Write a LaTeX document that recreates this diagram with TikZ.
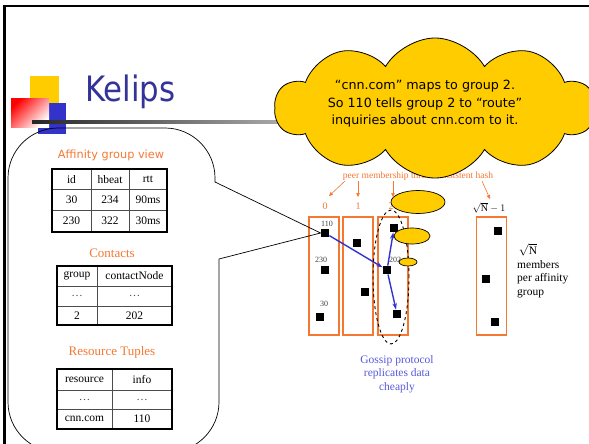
\documentclass[tikz,border=0pt]{standalone}
\usepackage{fontspec}
\setmainfont{Liberation Serif}
\newfontfamily\slidesans{DejaVu Sans}
\usetikzlibrary{shapes.symbols,shapes.geometric,arrows.meta}

\definecolor{kyellow}{RGB}{255,204,0}
\definecolor{kblue}{RGB}{51,51,204}
\definecolor{ktitle}{RGB}{51,51,153}
\definecolor{korange}{RGB}{245,120,50}
\definecolor{kgossip}{RGB}{90,90,220}

\tikzset{
  member/.style={fill=black, minimum size=8.5pt, inner sep=0pt},
  groupbox/.style={draw=korange, line width=1.2pt, fill=white, minimum width=30pt, minimum height=118pt, inner sep=0pt},
  idlabel/.style={font=\fontsize{8}{9}\selectfont, text=black!75, inner sep=0pt},
  cell/.style={font=\fontsize{11.5}{12}\selectfont, inner sep=0pt},
  tabhead/.style={font=\fontsize{13}{14}\selectfont, text=korange, inner sep=0pt},
  tabouter/.style={line width=1.8pt, black},
  tabinner/.style={line width=0.7pt, black!70},
  hashtip/.style={korange, line width=0.6pt, -{Triangle[length=4pt,width=3.5pt]}},
  gossiparrow/.style={kblue, line width=1.4pt, -{Stealth[length=6.5pt,width=4.5pt]}},
  bubble/.style={ellipse, draw=black, line width=0.7pt, fill=kyellow, inner sep=0pt},
}

\begin{document}
\begin{tikzpicture}[x=1pt,y=-1pt]
\useasboundingbox (0,0) rectangle (589,444);
\fill[white] (0,0) rectangle (589,444);

% slide frame
\draw[line width=2.6pt] (4.5,444) -- (4.5,6) -- (589,6);

% logo squares and title rule
\fill[kyellow] (30,76) rectangle (59,103);
\fill[kblue] (38,103) rectangle (66,134);
\shade[top color=red, bottom color=white, shading angle=45] (11,98) rectangle (49,127);
\shade[left color=black!85, right color=black!30] (32,120) rectangle (300,123);
\node[anchor=base west, font=\slidesans\fontsize{35}{36}\selectfont, text=ktitle, xscale=0.88, inner sep=0pt] (title) at (85,102) {Kelips};

% peer membership label and its arrows
\node[font=\fontsize{9.5}{10}\selectfont, text=korange, inner sep=0pt] (hashlbl) at (418,176) {peer membership thru a consistent hash};
\node[font=\fontsize{10}{11}\selectfont, text=korange, inner sep=0pt] (g0) at (325,206) {0};
\node[font=\fontsize{10}{11}\selectfont, text=korange, inner sep=0pt] (g1) at (358,206) {1};
\node[font=\fontsize{10}{11}\selectfont, text=korange, inner sep=0pt] (g2) at (391,206) {2};
\node[font=\fontsize{10}{11}\selectfont, inner sep=0pt] (gN) at (489,208) {$\sqrt{\mathrm{N}}-1$};
\coordinate (h0) at (345,181);
\coordinate (h1) at (358,181);
\coordinate (h2) at (393,181);
\coordinate (hN) at (482,181);
\draw[hashtip] (h0) -- (329,196);
\draw[hashtip] (h1) -- (358,197);
\draw[hashtip] (h2) -- (393,197);
\draw[hashtip] (hN) -- (490,199);

% affinity group columns
\node[groupbox] (box0) at (324,276) {};
\node[groupbox] (box1) at (358,276) {};
\node[groupbox] (box2) at (393,276) {};
\node[groupbox] (boxN) at (491.5,276) {};

% member labels
\node[idlabel] (l110) at (327,224) {110};
\node[idlabel] (l230) at (321,260) {230};
\node[idlabel] (l30) at (324,304) {30};
\node[idlabel] (l202) at (395,260) {202};

% members
\node[member] (m110) at (325,233) {};
\node[member] (m230) at (325,270) {};
\node[member] (m30) at (320,317) {};
\node[member] (b1a) at (357,243) {};
\node[member] (b1b) at (365,292) {};
\node[member] (b2a) at (394,228) {};
\node[member] (m202) at (387,270) {};
\node[member] (b2c) at (397,314) {};
\node[member] (bNa) at (498,231) {};
\node[member] (bNb) at (486,279) {};
\node[member] (bNc) at (495,322) {};

% gossip replication within group 2
\draw[gossiparrow] (m110) -- (m202);
\draw[gossiparrow] (m202) -- (b2a);
\draw[gossiparrow] (m202) -- (b2c);
\node[draw, dashed, line width=0.9pt, ellipse, minimum width=36pt, minimum height=134pt, inner sep=0pt] (gossipring) at (391,277) {};

% group size note
\node[font=\fontsize{11.5}{13.5}\selectfont, inner sep=0pt] (sqrtN) at (528,250) {$\sqrt{\mathrm{N}}$};
\node[font=\fontsize{11.5}{13.5}\selectfont, align=left, anchor=north west, inner sep=0pt] (members) at (517,260) {members\\per affinity\\group};

\node[font=\fontsize{11.5}{13.5}\selectfont, text=kgossip, align=center, inner sep=0pt] (gossip) at (397,374) {Gossip protocol\\replicates data\\cheaply};

% speech cloud with its thought bubbles
\node[cloud, cloud ignores aspect, cloud puffs=10, cloud puff arc=120, draw=black, line width=0.8pt, fill=kyellow, minimum width=320pt, minimum height=140pt, inner sep=0pt] (cloud) at (435,108) {};
\node[font=\slidesans\fontsize{12.7}{17.5}\selectfont, align=center, inner sep=0pt] (cloudtxt) at (425,104) {“cnn.com” maps to group 2.\\So 110 tells group 2 to “route”\\inquiries about cnn.com to it.};
\node[bubble, minimum width=54pt, minimum height=23pt] (bub1) at (418,202) {};
\node[bubble, minimum width=36pt, minimum height=16pt] (bub2) at (412,236) {};
\node[bubble, minimum width=18pt, minimum height=8pt] (bub3) at (408,262) {};

% node 110's local state callout
\draw[line width=0.7pt]
  (8,402) -- (8,178) .. controls (8,150.4) and (30.4,128) .. (58,128)
  -- (165,128) .. controls (192.6,128) and (215,150.4) .. (215,178)
  -- (215,182) -- (m110.west) -- (219,259)
  -- (219,402) .. controls (219,429.6) and (196.6,452) .. (169,452)
  -- (58,452) .. controls (30.4,452) and (8,429.6) .. (8,402);

% affinity group view table
\node[font=\slidesans\fontsize{11.3}{12}\selectfont, text=korange, inner sep=0pt] (agvhead) at (111,155) {Affinity group view};
\draw[tabinner] (91,169) -- (91,232) (129,169) -- (129,232) (52,189.5) -- (167,189.5) (52,210.5) -- (167,210.5);
\draw[tabouter] (52,169) rectangle (167,232);
\node[cell] (t1a) at (71.5,179.5) {id};
\node[cell] (t1b) at (110,179.5) {hbeat};
\node[cell] (t1c) at (148,179.5) {rtt};
\node[cell] (t1d) at (71.5,200) {30};
\node[cell] (t1e) at (110,200) {234};
\node[cell] (t1f) at (148,200) {90ms};
\node[cell] (t1g) at (71.5,221) {230};
\node[cell] (t1h) at (110,221) {322};
\node[cell] (t1i) at (148,221) {30ms};

% contacts table
\node[tabhead] (conhead) at (112,253) {Contacts};
\draw[tabinner] (97,266) -- (97,325) (57,286) -- (172,286) (57,306) -- (172,306);
\draw[tabouter] (57,266) rectangle (172,325);
\node[cell] (t2a) at (77,276) {group};
\node[cell] (t2b) at (134.5,276) {contactNode};
\node[cell, text=black!70] (t2c) at (77,296) {…};
\node[cell, text=black!70] (t2d) at (134.5,296) {…};
\node[cell] (t2e) at (77,315.5) {2};
\node[cell] (t2f) at (134.5,315.5) {202};

% resource tuples table
\node[tabhead] (reshead) at (112,352) {Resource Tuples};
\draw[tabinner] (112,369) -- (112,429) (57,390) -- (172,390) (57,409.5) -- (172,409.5);
\draw[tabouter] (57,369) rectangle (172,429);
\node[cell] (t3a) at (84.5,379.5) {resource};
\node[cell] (t3b) at (142,379.5) {info};
\node[cell, text=black!70] (t3c) at (84.5,399.5) {…};
\node[cell, text=black!70] (t3d) at (142,399.5) {…};
\node[cell] (t3e) at (84.5,419) {cnn.com};
\node[cell] (t3f) at (142,419) {110};
\end{tikzpicture}
\end{document}
